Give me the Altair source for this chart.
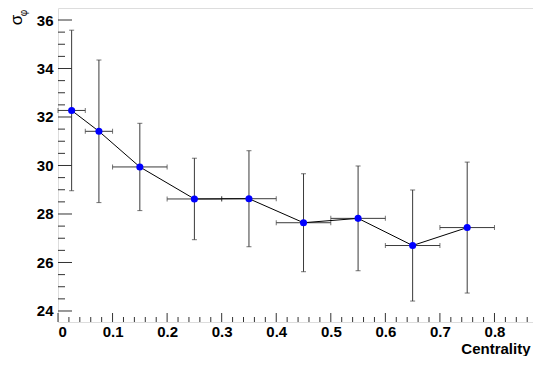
import altair as alt
import pandas as pd

# ---- data ----
centrality = [0.025, 0.075, 0.15, 0.25, 0.35, 0.45, 0.55, 0.65, 0.75]
cent_err = [0.025, 0.025, 0.05, 0.05, 0.05, 0.05, 0.05, 0.05, 0.05]
sigma_phi = [32.27, 31.41, 29.94, 28.62, 28.63, 27.64, 27.82, 26.70, 27.44]
sigma_err = [3.31, 2.94, 1.80, 1.68, 1.98, 2.02, 2.16, 2.29, 2.70]

x_major = [0, 0.1, 0.2, 0.3, 0.4, 0.5, 0.6, 0.7, 0.8]
x_minor = [i / 50 for i in range(1, 44) if i % 5 != 0]
y_major = [24, 26, 28, 30, 32, 34, 36]
y_minor = [v / 2 for v in range(48, 73) if v % 4 != 0]

W, H = 475, 314
FONT = "Liberation Sans"

df = pd.DataFrame({
    "centrality": centrality,
    "sigma": sigma_phi,
    "xlo": [c - e for c, e in zip(centrality, cent_err)],
    "xhi": [c + e for c, e in zip(centrality, cent_err)],
    "ylo": [s - e for s, e in zip(sigma_phi, sigma_err)],
    "yhi": [s + e for s, e in zip(sigma_phi, sigma_err)],
})

xs = alt.Scale(domain=[0, 0.8706], nice=False, zero=False)
ys = alt.Scale(domain=[23.546, 36.495], nice=False, zero=False)

XAX = alt.Axis(
    values=x_major, format="~g", title="Centrality",
    titleX=472, titleY=31, titleAlign="right", titleBaseline="alphabetic",
    titleFont=FONT, titleFontSize=15, titleFontWeight="bold", titleColor="black",
    labelFont=FONT, labelFontSize=15, labelFontWeight="bold", labelColor="black",
    labelPadding=2, ticks=False, tickSize=0, domain=False, grid=False,
)
YAX = alt.Axis(
    values=y_major, format="d", title=None,
    labelFont=FONT, labelFontSize=15, labelFontWeight="bold", labelColor="black",
    labelPadding=5, ticks=False, tickSize=0, domain=False, grid=False,
)


def X(f):
    return alt.X(f, scale=xs, axis=XAX)


def Y(f):
    return alt.Y(f, scale=ys, axis=YAX)


base = alt.Chart(df)
ECOL = "#3a3a3a"

vbar = base.mark_rule(color=ECOL, strokeWidth=1).encode(x=X("centrality:Q"), y=Y("ylo:Q"), y2="yhi:Q")
hbar = base.mark_rule(color=ECOL, strokeWidth=1).encode(x=X("xlo:Q"), x2="xhi:Q", y=Y("sigma:Q"))
cap_top = base.mark_tick(orient="horizontal", size=5, thickness=1, color=ECOL).encode(
    x=X("centrality:Q"), y=Y("yhi:Q"))
cap_bot = base.mark_tick(orient="horizontal", size=5, thickness=1, color=ECOL).encode(
    x=X("centrality:Q"), y=Y("ylo:Q"))
cap_left = base.mark_tick(orient="vertical", size=5, thickness=1, color=ECOL).encode(
    x=X("xlo:Q"), y=Y("sigma:Q"))
cap_right = base.mark_tick(orient="vertical", size=5, thickness=1, color=ECOL).encode(
    x=X("xhi:Q"), y=Y("sigma:Q"))
line = base.mark_line(color="black", strokeWidth=1).encode(x=X("centrality:Q"), y=Y("sigma:Q"))
points = base.mark_circle(size=50, color="#0000ff", opacity=1).encode(x=X("centrality:Q"), y=Y("sigma:Q"))

# inner ticks (ROOT style)
TCOL = "#333333"
xt_major = alt.Chart(pd.DataFrame({"v": x_major})).mark_rule(color=TCOL, strokeWidth=1).encode(
    x=X("v:Q"), y=alt.value(H), y2=alt.value(H - 9))
xt_minor = alt.Chart(pd.DataFrame({"v": x_minor})).mark_rule(color=TCOL, strokeWidth=1).encode(
    x=X("v:Q"), y=alt.value(H), y2=alt.value(H - 5))
yt_major = alt.Chart(pd.DataFrame({"v": y_major})).mark_rule(color=TCOL, strokeWidth=1).encode(
    y=Y("v:Q"), x=alt.value(0), x2=alt.value(14))
yt_minor = alt.Chart(pd.DataFrame({"v": y_minor})).mark_rule(color=TCOL, strokeWidth=1).encode(
    y=Y("v:Q"), x=alt.value(0), x2=alt.value(7))

# y title: sigma with subscript phi, rotated
sig = alt.Chart(pd.DataFrame({"t": ["σ"]})).mark_text(
    font=FONT, fontSize=17, angle=270, align="center", baseline="middle", color="black"
).encode(text="t:N", x=alt.value(-41), y=alt.value(12))
phi = alt.Chart(pd.DataFrame({"t": ["φ"]})).mark_text(
    font=FONT, fontSize=10, angle=270, align="center", baseline="middle", color="black"
).encode(text="t:N", x=alt.value(-34), y=alt.value(5))

chart = alt.layer(
    xt_minor, xt_major, yt_minor, yt_major,
    vbar, hbar, cap_top, cap_bot, cap_left, cap_right,
    line, points, sig, phi,
).properties(
    width=W, height=H,
    autosize=alt.AutoSizeParams(type="none"),
    padding={"left": 50, "top": 0, "right": 0, "bottom": 34},
).configure_view(stroke="black", strokeWidth=1).configure(background="white")

chart.save("out.html", embed_options={"renderer": "svg", "actions": False})
